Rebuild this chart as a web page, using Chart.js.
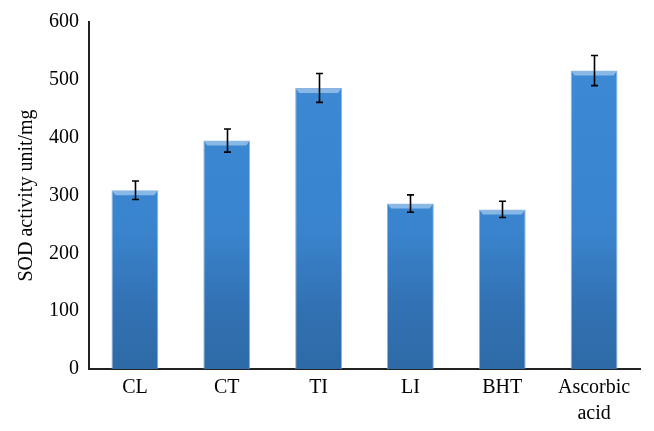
<!DOCTYPE html>
<html>
<head>
<meta charset="utf-8">
<script src="https://cdn.jsdelivr.net/npm/chart.js@4/dist/chart.umd.min.js"></script>
<style>
  html, body { margin: 0; padding: 0; background: #fff; }
  #wrap { width: 654px; height: 431px; position: relative; }
</style>
</head>
<body>
<div id="wrap"><canvas id="c"></canvas></div>
<script>
const categories = ['CL', 'CT', 'TI', 'LI', 'BHT', ['Ascorbic', 'acid']];
const sodActivity = [309, 395, 486, 286, 276, 516];
const sodError = [16, 20, 25, 15, 14, 26];
const yTicks = [0, 100, 200, 300, 400, 500, 600];
const yTitle = 'SOD activity unit/mg';

const FONT = "'Liberation Serif', 'DejaVu Serif', serif";

function barGradient(ctx) {
  const chart = ctx.chart;
  const area = chart.chartArea;
  if (!area) return '#3a86cf';
  const g = chart.ctx.createLinearGradient(0, area.top, 0, area.bottom);
  g.addColorStop(0, '#3d8ad6');
  g.addColorStop(0.6, '#3a84ce');
  g.addColorStop(0.82, '#3271b3');
  g.addColorStop(1, '#2d6aa6');
  return g;
}

const decorPlugin = {
  id: 'decor',
  afterDatasetsDraw(chart) {
    const c = chart.ctx;
    const meta = chart.getDatasetMeta(0);
    const y = chart.scales.y;
    c.save();
    meta.data.forEach((bar) => {
      const w = bar.width;
      const left = bar.x - w / 2;
      c.fillStyle = 'rgba(170,205,240,0.7)';
      c.beginPath();
      c.moveTo(left + 1, bar.y + 1);
      c.lineTo(left + w - 1, bar.y + 1);
      c.lineTo(left + w - 4, bar.y + 5);
      c.lineTo(left + 4, bar.y + 5);
      c.closePath();
      c.fill();
    });
    c.strokeStyle = '#000';
    c.lineWidth = 1.6;
    meta.data.forEach((bar, i) => {
      const v = sodActivity[i], e = sodError[i];
      const yt = y.getPixelForValue(v + e);
      const yb = y.getPixelForValue(v - e);
      const x = Math.round(bar.x) + 0.5;
      c.beginPath();
      c.moveTo(x, yt); c.lineTo(x, yb);
      c.moveTo(x - 3.5, yt); c.lineTo(x + 3.5, yt);
      c.moveTo(x - 3.5, yb); c.lineTo(x + 3.5, yb);
      c.stroke();
    });
    c.restore();
  }
};

new Chart(document.getElementById('c'), {
  type: 'bar',
  data: {
    labels: categories,
    datasets: [{
      data: sodActivity,
      backgroundColor: barGradient,
      borderColor: 'rgba(110,160,215,0.8)',
      borderWidth: 1,
      categoryPercentage: 1.0,
      barPercentage: 0.51
    }]
  },
  options: {
    responsive: true,
    maintainAspectRatio: false,
    animation: false,
    layout: { padding: { top: 22, right: 14, left: 0, bottom: 0 } },
    plugins: { legend: { display: false }, tooltip: { enabled: false } },
    scales: {
      x: {
        grid: { display: false, drawTicks: false },
        border: { display: true, color: '#222', width: 2 },
        ticks: { color: '#000', font: { family: FONT, size: 20, lineHeight: 1.3 }, padding: 6, maxRotation: 0, autoSkip: false },
        afterFit(s) { s.height = 62; }
      },
      y: {
        min: 0, max: 600,
        afterBuildTicks(s) { s.ticks = yTicks.map(v => ({ value: v })); },
        grid: { display: false, drawTicks: false },
        border: { display: true, color: '#222', width: 2 },
        ticks: { color: '#000', font: { family: FONT, size: 20 }, padding: 10 },
        title: { display: true, text: yTitle, color: '#000', font: { family: FONT, size: 20 }, padding: { top: 15, bottom: 0 } },
        afterFit(s) { s.width = 89; }
      }
    }
  },
  plugins: [decorPlugin]
});
</script>
</body>
</html>
